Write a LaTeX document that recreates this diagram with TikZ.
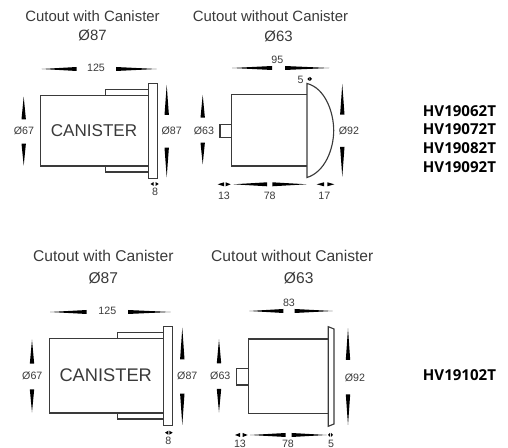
\documentclass[tikz,border=0pt]{standalone}
\usepackage{fontspec}
\setmainfont{Liberation Sans}
\newfontfamily\partfont{Open Sans}
\definecolor{inkgrey}{HTML}{3A3A3A}
\tikzset{
  outline/.style={draw=inkgrey,line width=0.85pt},
  wedge/.style={fill=black,draw=none},
  title/.style={text=inkgrey,font=\fontsize{11.2pt}{13pt}\selectfont,inner sep=0pt},
  titlelow/.style={text=inkgrey,font=\fontsize{11.7pt}{13pt}\selectfont,inner sep=0pt},
  dimlabel/.style={text=inkgrey,font=\fontsize{8pt}{9pt}\selectfont,inner sep=0pt},
  canlabel/.style={text=inkgrey,inner sep=0pt},
  partlabel/.style={font=\partfont\bfseries\fontsize{11.3pt}{13pt}\selectfont,inner sep=0pt,anchor=west}
}
% tip x, base x, y
\newcommand{\hwedge}[3]{\fill [wedge] (#1,#3) -- (#2,#3-2) -- (#2,#3+2) -- cycle ;}
% x, tip y, base y
\newcommand{\vwedge}[3]{\fill [wedge] (#1,#2) -- (#1-2.2,#3) -- (#1+2.2,#3) -- cycle ;}
\begin{document}
\begin{tikzpicture}[x=0.75pt,y=0.75pt,yscale=-1,xscale=1]
\useasboundingbox (0,0) rectangle (508,448);

%Upper left: with canister
\draw [outline] (40.7,95.7) -- (148.5,95.7) -- (148.5,166) -- (40.7,166) -- cycle ;
\draw [outline] (105.3,95.7) -- (105.3,89.7) -- (148.5,89.7) ;
\draw [outline] (105.3,166) -- (105.3,172) -- (148.5,172) ;
\draw [outline] (148.5,83.7) -- (157.3,83.7) -- (157.3,178.7) -- (148.5,178.7) -- cycle ;
\hwedge{41.7}{76.7}{69}
\hwedge{156.7}{116}{69}
\vwedge{23.7}{96.7}{119.3}
\vwedge{23.7}{165.7}{143.7}
\vwedge{166.7}{85}{115}
\vwedge{166.7}{177.3}{147.7}
\hwedge{150.5}{153.7}{184}
\hwedge{158.7}{155.5}{184}
\node [title] (titleA) at (92.5,16) {Cutout with Canister};
\node [title] (sizeA) at (92.5,35.5) {Ø87};
\node [dimlabel] (lenA) at (96,68) {125};
\node [dimlabel] (bodyA) at (24,131) {Ø67};
\node [dimlabel] (flangeA) at (171.7,131) {Ø87};
\node [dimlabel] (thickA) at (155,192) {8};
\node [canlabel,font=\fontsize{12.8pt}{15pt}\selectfont] (canA) at (94,131) {CANISTER};

%Upper right: without canister
\draw [outline] (307,94.7) -- (231.3,94.7) -- (231.3,166) -- (307,166) ;
\draw [outline] (220,124.3) -- (231.3,124.3) -- (231.3,137.3) -- (220,137.3) -- cycle ;
\draw [outline] (307,83.5) .. controls (325,88) and (333.7,112) .. (333.7,130.5) .. controls (333.7,149) and (325,172) .. (307,177.5) -- cycle ;
\hwedge{232}{272}{68}
\hwedge{329.3}{285}{68}
\vwedge{202.7}{95}{117.7}
\vwedge{202.7}{164.3}{142.7}
\vwedge{342.3}{84}{114.7}
\vwedge{342.3}{176.7}{147}
\hwedge{217.7}{224}{184.3}
\hwedge{230.7}{225.7}{184.3}
\hwedge{233.3}{267}{184.3}
\hwedge{306.7}{272.3}{184.3}
\hwedge{316.7}{324}{184.3}
\hwedge{334.3}{327.3}{184.3}
\hwedge{307.3}{309.5}{79}
\hwedge{312}{310}{79}
\node [title] (titleB) at (270.5,16) {Cutout without Canister};
\node [title] (sizeB) at (278.5,36) {Ø63};
\node [dimlabel] (lenB) at (277.3,60.3) {95};
\node [dimlabel] (lipB) at (300.7,80) {5};
\node [dimlabel] (bodyB) at (204,131) {Ø63};
\node [dimlabel] (flangeB) at (349,131) {Ø92};
\node [dimlabel] (stubB) at (224,195.5) {13};
\node [dimlabel] (depthB) at (269.7,195.5) {78};
\node [dimlabel] (domeB) at (324.3,195.5) {17};

%Lower left: with canister
\draw [outline] (49.7,338.3) -- (163.5,338.3) -- (163.5,413) -- (49.7,413) -- cycle ;
\draw [outline] (117.3,338.3) -- (117.3,332.7) -- (163.5,332.7) ;
\draw [outline] (117.3,413) -- (117.3,419) -- (163.5,419) ;
\draw [outline] (163.5,326.3) -- (172.7,326.3) -- (172.7,425.3) -- (163.5,425.3) -- cycle ;
\hwedge{50}{86.7}{312}
\hwedge{170.7}{128}{312}
\vwedge{32}{339.7}{363.7}
\vwedge{32}{412.3}{389.3}
\vwedge{182.3}{327.7}{359.3}
\vwedge{182.3}{425}{393.7}
\hwedge{165}{168.3}{432.7}
\hwedge{172.7}{169.3}{432.7}
\node [titlelow] (titleC) at (103.3,256) {Cutout with Canister};
\node [titlelow] (sizeC) at (103.3,277.7) {Ø87};
\node [dimlabel] (lenC) at (107.3,311) {125};
\node [dimlabel] (bodyC) at (32.3,375.7) {Ø67};
\node [dimlabel] (flangeC) at (187.3,375.7) {Ø87};
\node [dimlabel] (thickC) at (168.3,440.7) {8};
\node [canlabel,font=\fontsize{13.7pt}{16pt}\selectfont] (canC) at (105.7,375.7) {CANISTER};

%Lower right: without canister
\draw [outline] (328.3,339) -- (248.3,339) -- (248.3,413.7) -- (328.3,413.7) ;
\draw [outline] (236.7,368.3) -- (248.3,368.3) -- (248.3,385) -- (236.7,385) -- cycle ;
\draw [outline] (328.3,326.7) -- (334,329) -- (334,424) -- (328.3,426.3) -- cycle ;
\hwedge{249.3}{283.3}{311}
\hwedge{332.7}{294.7}{311}
\vwedge{219}{339.3}{363.3}
\vwedge{219}{412.3}{389}
\vwedge{348}{328.3}{360}
\vwedge{348}{425}{394.3}
\hwedge{235}{240}{435}
\hwedge{247.7}{242.7}{435}
\hwedge{250}{285.7}{435}
\hwedge{326.7}{291.7}{435}
\hwedge{328}{330}{435}
\hwedge{333}{331}{435}
\node [titlelow] (titleD) at (292.3,256) {Cutout without Canister};
\node [titlelow] (sizeD) at (298.7,277.7) {Ø63};
\node [dimlabel] (lenD) at (289,302.7) {83};
\node [dimlabel] (bodyD) at (220.3,376) {Ø63};
\node [dimlabel] (flangeD) at (355,377.7) {Ø92};
\node [dimlabel] (stubD) at (240,443.5) {13};
\node [dimlabel] (depthD) at (288,443.5) {78};
\node [dimlabel] (lipD) at (331,443.5) {5};

%Part numbers
\node [partlabel] (partA) at (422.7,110.7) {HV19062T};
\node [partlabel] (partB) at (422.7,129.5) {HV19072T};
\node [partlabel] (partC) at (422.7,148) {HV19082T};
\node [partlabel] (partD) at (422.7,166.7) {HV19092T};
\node [partlabel] (partE) at (422.7,375) {HV19102T};

\end{tikzpicture}
\end{document}
